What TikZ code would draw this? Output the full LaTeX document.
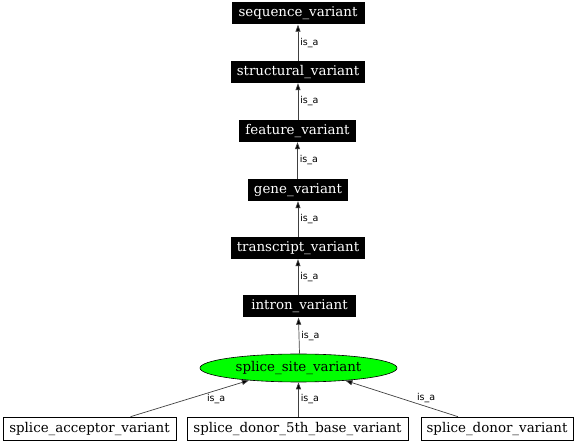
\documentclass[tikz,border=0pt]{standalone}
\usepackage{fontspec}
\setmainfont{DejaVu Serif}
\newfontfamily\lblfont{DejaVu Sans}
\usetikzlibrary{arrows.meta,shapes.geometric}
\begin{document}
\begin{tikzpicture}[x=1pt,y=-1pt,
  blk/.style={rectangle, fill=black, text=white, minimum height=22, inner sep=0pt, font=\fontsize{13.4}{14}\selectfont},
  wbox/.style={rectangle, draw=black, fill=white, line width=0.6pt, minimum height=23, inner sep=0pt, font=\fontsize{13.4}{14}\selectfont},
  ell/.style={ellipse, draw=black, fill=green, line width=0.6pt, minimum width=197, minimum height=28, inner sep=0pt, font=\fontsize{13.4}{14}\selectfont},
  isa/.style={draw=black!75, line width=0.7pt, -{Triangle[length=7pt,width=5pt,fill=black]}},
  lbl/.style={font=\lblfont\fontsize{9.5}{10}\selectfont, inner sep=0pt, anchor=west, text=black}]
\useasboundingbox (0,0) rectangle (576,443);
\node[blk, minimum width=133] (sv) at (298,13.5) {sequence\_variant};
\node[blk, minimum width=134] (stv) at (298,72) {structural\_variant};
\node[blk, minimum width=117] (fv) at (297.5,131) {feature\_variant};
\node[blk, minimum width=100] (gv) at (298,190) {gene\_variant};
\node[blk, minimum width=134] (tv) at (298,248) {transcript\_variant};
\node[blk, minimum width=113] (iv) at (299.5,306.5) {intron\_variant};
\node[ell] (ssv) at (298.5,368) {splice\_site\_variant};
\node[wbox, minimum width=173] (acc) at (89.5,428.5) {splice\_acceptor\_variant};
\node[wbox, minimum width=221] (d5) at (297.5,428.5) {splice\_donor\_5th\_base\_variant};
\node[wbox, minimum width=152] (don) at (497,428.5) {splice\_donor\_variant};
\draw[isa] (stv.north -| sv.south) -- node[lbl, xshift=2pt]{is\_a} (sv.south);
\draw[isa] (fv.north -| stv.south) -- node[lbl, xshift=2pt]{is\_a} (stv.south);
\draw[isa] (gv.north -| fv.south) -- node[lbl, xshift=2pt]{is\_a} (fv.south);
\draw[isa] (tv.north -| gv.south) -- node[lbl, xshift=2pt]{is\_a} (gv.south);
\draw[isa] (iv.north -| tv.south) -- node[lbl, xshift=2pt]{is\_a} (tv.south);
\draw[isa] (ssv.north -| iv.south) -- node[lbl, xshift=2pt]{is\_a} (iv.south -| ssv.north);
\draw[isa] (d5.north -| ssv.south) -- node[lbl, xshift=2pt]{is\_a} (ssv.south);
\draw[isa] ([xshift=41pt]acc.north) -- node[lbl, xshift=17pt]{is\_a} (ssv.194);
\draw[isa] ([xshift=-39pt]don.north) -- node[lbl, xshift=15pt, yshift=1pt]{is\_a} (ssv.345);
\end{tikzpicture}
\end{document}
